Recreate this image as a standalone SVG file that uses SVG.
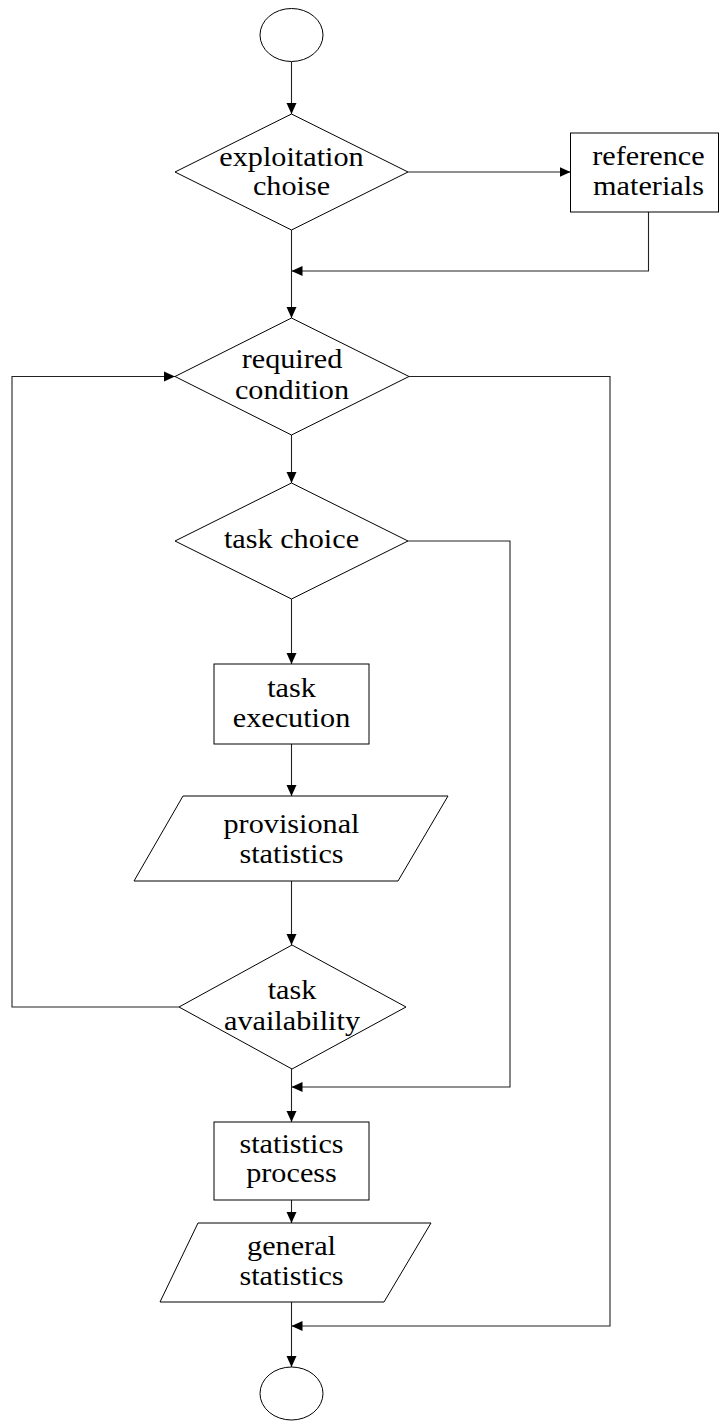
<svg xmlns="http://www.w3.org/2000/svg" width="720" height="1421" viewBox="0 0 720 1421">
<style>
.s{fill:#fff;stroke:#000;stroke-width:1}
.c{fill:none;stroke:#222;stroke-width:1.1}
.t{font-family:"Liberation Serif","Times New Roman",serif;font-size:27px;fill:#000;text-anchor:middle}
</style>
<defs>
<marker id="ah" markerUnits="userSpaceOnUse" markerWidth="12" markerHeight="12" viewBox="0 0 12 12" refX="11" refY="6" orient="auto">
<path d="M0,1 L11,6 L0,11 Z" fill="#000"/>
</marker>
</defs>
<rect width="720" height="1421" fill="#fff"/>
<g id="connectors">
<line class="c" x1="291.5" y1="62" x2="291.5" y2="114" marker-end="url(#ah)"/>
<line class="c" x1="408" y1="172" x2="570.5" y2="172" marker-end="url(#ah)"/>
<polyline class="c" points="648.5,212 648.5,271 291.5,271" marker-end="url(#ah)"/>
<line class="c" x1="291.5" y1="230" x2="291.5" y2="318" marker-end="url(#ah)"/>
<line class="c" x1="291.5" y1="435" x2="291.5" y2="483" marker-end="url(#ah)"/>
<line class="c" x1="291.5" y1="599" x2="291.5" y2="664" marker-end="url(#ah)"/>
<line class="c" x1="291.5" y1="744" x2="291.5" y2="796" marker-end="url(#ah)"/>
<line class="c" x1="291.5" y1="881" x2="291.5" y2="945" marker-end="url(#ah)"/>
<polyline class="c" points="179,1007 12,1007 12,376.5 175,376.5" marker-end="url(#ah)"/>
<polyline class="c" points="408,541 510,541 510,1087 291.5,1087" marker-end="url(#ah)"/>
<line class="c" x1="291.5" y1="1069" x2="291.5" y2="1122" marker-end="url(#ah)"/>
<line class="c" x1="291.5" y1="1200" x2="291.5" y2="1223" marker-end="url(#ah)"/>
<polyline class="c" points="409,376.5 610,376.5 610,1326 291.5,1326" marker-end="url(#ah)"/>
<line class="c" x1="291.5" y1="1302" x2="291.5" y2="1367" marker-end="url(#ah)"/>
</g>
<g id="start">
<ellipse class="s" cx="291.5" cy="35" rx="31.5" ry="26.5"/>
</g>
<g id="exploitation-choise">
<polygon class="s" points="291.5,114 408,172 291.5,230 175,172"/>
<text class="t" x="0" y="166.5" transform="translate(291.5 0) scale(1.12 1)">exploitation</text>
<text class="t" x="0" y="195" transform="translate(291.5 0) scale(1.12 1)">choise</text>
</g>
<g id="reference-materials">
<rect class="s" x="570.5" y="133" width="148" height="79"/>
<text class="t" x="0" y="165" transform="translate(648.5 0) scale(1.12 1)">reference</text>
<text class="t" x="0" y="195" transform="translate(648.5 0) scale(1.12 1)">materials</text>
</g>
<g id="required-condition">
<polygon class="s" points="291.5,318 409,376.5 291.5,435 175,376.5"/>
<text class="t" x="0" y="368.5" transform="translate(292 0) scale(1.12 1)">required</text>
<text class="t" x="0" y="399" transform="translate(292 0) scale(1.12 1)">condition</text>
</g>
<g id="task-choice">
<polygon class="s" points="291.5,483 408,541 291.5,599 175,541"/>
<text class="t" x="0" y="548.5" transform="translate(291.5 0) scale(1.12 1)">task choice</text>
</g>
<g id="task-execution">
<rect class="s" x="214" y="664" width="155" height="80"/>
<text class="t" x="0" y="697" transform="translate(291.5 0) scale(1.12 1)">task</text>
<text class="t" x="0" y="727" transform="translate(291.5 0) scale(1.12 1)">execution</text>
</g>
<g id="provisional-statistics">
<polygon class="s" points="183,796 448,796 398,881 134,881"/>
<text class="t" x="0" y="833" transform="translate(291.5 0) scale(1.12 1)">provisional</text>
<text class="t" x="0" y="863" transform="translate(291.5 0) scale(1.12 1)">statistics</text>
</g>
<g id="task-availability">
<polygon class="s" points="292,945 406,1007 292,1069 179,1007"/>
<text class="t" x="0" y="999" transform="translate(292 0) scale(1.12 1)">task</text>
<text class="t" x="0" y="1030" transform="translate(292 0) scale(1.12 1)">availability</text>
</g>
<g id="statistics-process">
<rect class="s" x="214" y="1122" width="155" height="78"/>
<text class="t" x="0" y="1153" transform="translate(291.5 0) scale(1.12 1)">statistics</text>
<text class="t" x="0" y="1182" transform="translate(291.5 0) scale(1.12 1)">process</text>
</g>
<g id="general-statistics">
<polygon class="s" points="198,1223 431,1223 384,1302 160,1302"/>
<text class="t" x="0" y="1255" transform="translate(291.5 0) scale(1.12 1)">general</text>
<text class="t" x="0" y="1285" transform="translate(291.5 0) scale(1.12 1)">statistics</text>
</g>
<g id="end">
<ellipse class="s" cx="291.5" cy="1393.5" rx="31.5" ry="26.5"/>
</g>
</svg>
